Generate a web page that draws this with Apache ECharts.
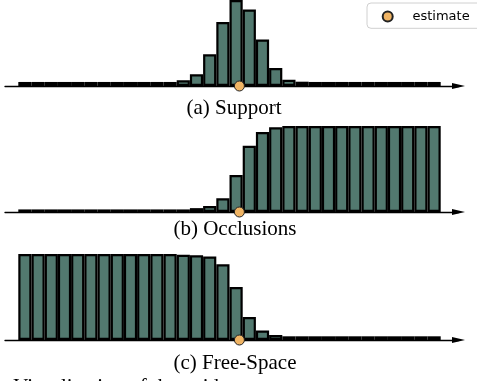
<!DOCTYPE html>
<html>
<head>
<meta charset="utf-8">
<script src="https://cdn.jsdelivr.net/npm/echarts@6/dist/echarts.min.js"></script>
<style>html,body{margin:0;padding:0;background:#fff;}#c{width:477px;height:381px;}</style>
</head>
<body>
<div id="c"></div>
<script>
// 32 histogram bins
const bins = Array.from({length: 32}, (_, i) => 'b' + i);
const support = [0.047,0.047,0.047,0.047,0.047,0.047,0.047,0.047,0.047,0.047,0.047,0.047,
  0.066,0.136,0.37,0.745,1.0,0.89,0.54,0.21,0.073,0.05,
  0.047,0.047,0.047,0.047,0.047,0.047,0.047,0.047,0.047,0.047];
const occlusions = [0.03,0.03,0.03,0.03,0.03,0.03,0.03,0.03,0.03,0.03,0.03,0.03,0.03,
  0.045,0.07,0.16,0.43,0.77,0.93,0.985,
  1,1,1,1,1,1,1,1,1,1,1,1];
const freeSpace = [1,1,1,1,1,1,1,1,1,1,1,1,
  0.99,0.985,0.97,0.88,0.616,0.267,0.11,0.058,
  0.043,0.043,0.043,0.043,0.043,0.043,0.043,0.043,0.043,0.043,0.043,0.043];
const estimate = 16.75; // position in bin units
const captions = ['(a) Support', '(b) Occlusions', '(c) Free-Space'];
const panels = [support, occlusions, freeSpace];

const tops = [0, 126, 254];
const H = 86;
const barColor = '#52796F';
const dotColor = '#F0B464';

const grid = [], xAxis = [], yAxis = [], series = [];
panels.forEach((vals, p) => {
  const gBar = grid.length;
  grid.push({left: 18.3, width: 422.4, top: tops[p], height: H});
  const gLine = grid.length;
  grid.push({left: 5, width: 453.5, top: tops[p], height: H});
  const xa = xAxis.length;
  xAxis.push({type: 'category', gridIndex: gBar, data: bins, show: false, boundaryGap: true});
  const xv = xAxis.length;
  xAxis.push({type: 'value', gridIndex: gBar, min: 0, max: 32, show: false});
  xAxis.push({type: 'value', gridIndex: gLine, min: 0, max: 1,
    axisLine: {show: true, onZero: false, symbol: ['none', 'triangle'], symbolSize: [6, 13],
      lineStyle: {color: '#000', width: 1.3}},
    axisTick: {show: false}, axisLabel: {show: false}, splitLine: {show: false}});
  const ya = yAxis.length;
  yAxis.push({type: 'value', gridIndex: gBar, min: 0, max: 1, show: false});
  yAxis.push({type: 'value', gridIndex: gLine, min: 0, max: 1, show: false});
  series.push({type: 'bar', xAxisIndex: xa, yAxisIndex: ya, data: vals,
    barCategoryGap: '0%', barGap: '0%', silent: true, z: 2,
    itemStyle: {color: barColor, borderColor: '#000', borderWidth: 2.2}});
  series.push({type: 'scatter', name: 'estimate', xAxisIndex: xv, yAxisIndex: ya,
    data: [[estimate, 0]], symbol: 'circle', symbolSize: 10, clip: false, z: 10,
    itemStyle: {color: dotColor, borderColor: '#222', borderWidth: 1, opacity: 1}});
});

const chart = echarts.init(document.getElementById('c'), null, {renderer: 'canvas'});
chart.setOption({
  animation: false,
  backgroundColor: '#fff',
  grid, xAxis, yAxis, series,
  legend: {
    data: ['estimate'], icon: 'circle', left: 381.7, top: 9,
    padding: 0, itemWidth: 39.5, itemHeight: 10, z: 20,
    textStyle: {fontFamily: 'DejaVu Sans', fontSize: 13, lineHeight: 15, color: '#000'}
  },
  graphic: [
    {type: 'rect', z: 15, shape: {x: 367, y: 3, width: 130, height: 25.3, r: 4},
      style: {fill: '#fff', stroke: '#d0d0d0', lineWidth: 1}},
    {type: 'text', x: 234, y: 108, style: {text: captions[0], font: '21px "Liberation Serif"', fill: '#000', textAlign: 'center', textVerticalAlign: 'middle'}},
    {type: 'text', x: 235, y: 229.6, style: {text: captions[1], font: '21px "Liberation Serif"', fill: '#000', textAlign: 'center', textVerticalAlign: 'middle'}},
    {type: 'text', x: 235, y: 363, style: {text: captions[2], font: '21px "Liberation Serif"', fill: '#000', textAlign: 'center', textVerticalAlign: 'middle'}},
    {type: 'text', x: 13.3, y: 387, style: {text: 'Visualization of the evidence terms', font: '21px "Liberation Serif"', fill: '#000', textAlign: 'left', textVerticalAlign: 'middle'}}
  ]
});
</script>
</body>
</html>
